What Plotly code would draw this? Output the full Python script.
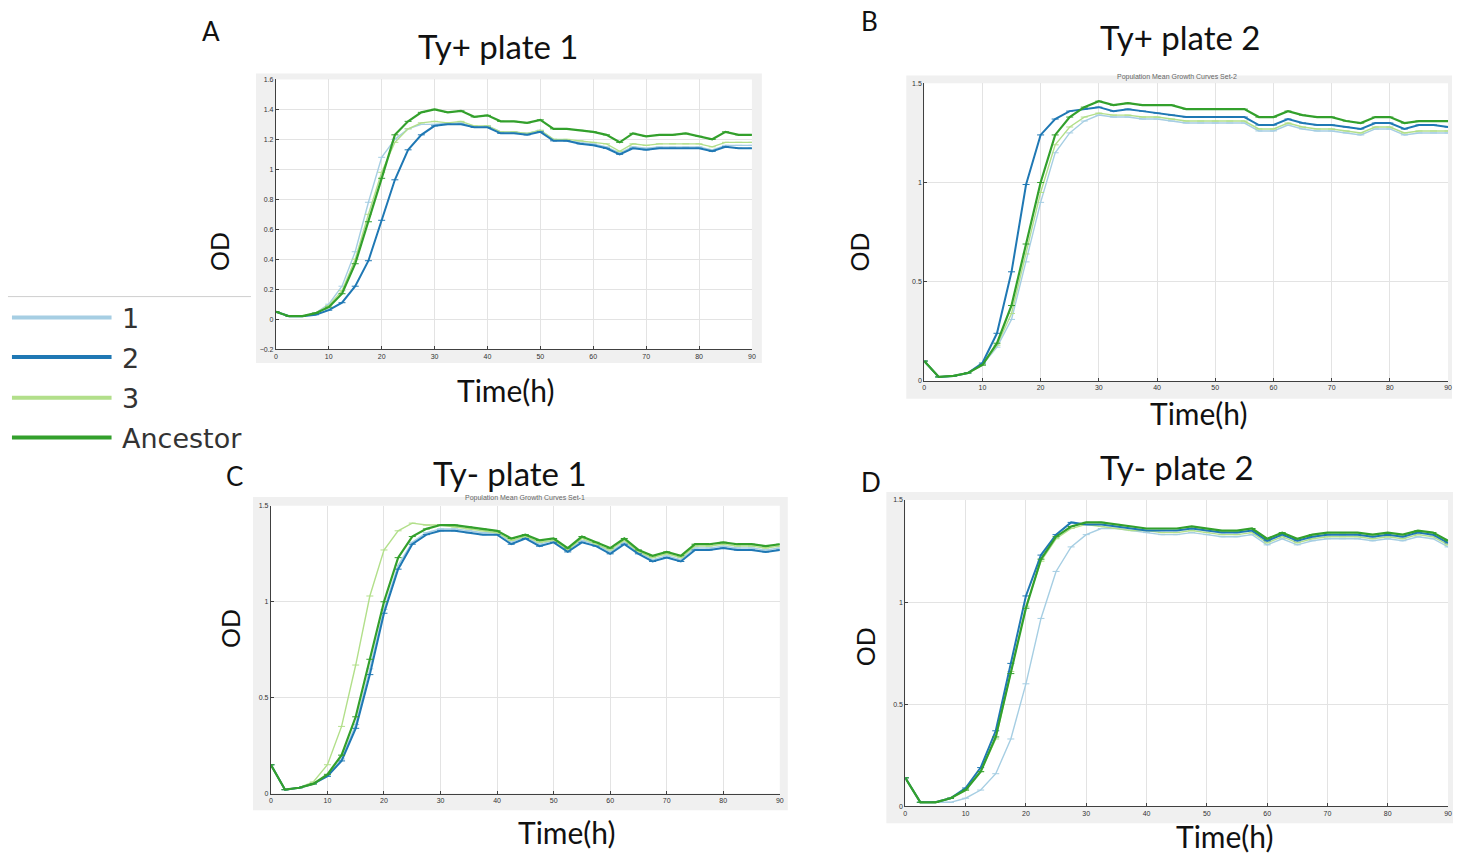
import plotly.graph_objects as go

# ---------------- data ----------------
time_h = [0, 2.5, 5, 7.5, 10, 12.5, 15, 17.5, 20, 22.5, 25, 27.5, 30, 32.5, 35, 37.5,
          40, 42.5, 45, 47.5, 50, 52.5, 55, 57.5, 60, 62.5, 65, 67.5, 70, 72.5, 75,
          77.5, 80, 82.5, 85, 87.5, 90]
series_names = ["1", "2", "3", "Ancestor"]

# Panel A: Ty+ plate 1
A_1 = [0.05,0.02,0.02,0.04,0.10,0.22,0.45,0.78,1.08,1.20,1.27,1.30,1.30,1.31,1.31,1.28,1.29,1.25,1.25,1.24,1.26,1.20,1.19,1.18,1.17,1.15,1.11,1.15,1.14,1.15,1.15,1.15,1.15,1.13,1.16,1.16,1.16]
A_2 = [0.05,0.02,0.02,0.03,0.06,0.11,0.22,0.39,0.66,0.93,1.13,1.23,1.29,1.30,1.30,1.28,1.28,1.24,1.24,1.23,1.25,1.19,1.19,1.17,1.16,1.14,1.10,1.14,1.13,1.14,1.14,1.14,1.14,1.12,1.15,1.14,1.14]
A_3 = [0.05,0.02,0.02,0.04,0.09,0.19,0.40,0.70,0.98,1.18,1.27,1.31,1.32,1.31,1.32,1.29,1.29,1.25,1.25,1.24,1.26,1.20,1.20,1.19,1.18,1.17,1.12,1.17,1.16,1.17,1.17,1.17,1.17,1.15,1.18,1.18,1.18]
A_anc = [0.05,0.02,0.02,0.04,0.08,0.17,0.37,0.65,0.94,1.23,1.32,1.38,1.40,1.38,1.39,1.35,1.36,1.32,1.32,1.31,1.33,1.27,1.27,1.26,1.25,1.23,1.18,1.24,1.22,1.23,1.23,1.24,1.22,1.20,1.25,1.23,1.23]

# Panel B: Ty+ plate 2
B_1 = [0.10,0.02,0.025,0.04,0.08,0.17,0.31,0.60,0.90,1.15,1.25,1.31,1.34,1.33,1.33,1.32,1.32,1.31,1.30,1.30,1.30,1.30,1.30,1.26,1.26,1.29,1.27,1.26,1.26,1.25,1.24,1.27,1.27,1.24,1.25,1.25,1.25]
B_2 = [0.10,0.02,0.025,0.04,0.09,0.24,0.55,0.99,1.24,1.32,1.36,1.37,1.38,1.36,1.37,1.36,1.35,1.34,1.33,1.33,1.33,1.33,1.33,1.29,1.29,1.32,1.30,1.29,1.29,1.28,1.27,1.30,1.30,1.27,1.29,1.29,1.28]
B_3 = [0.10,0.02,0.025,0.04,0.08,0.18,0.34,0.64,0.95,1.19,1.28,1.33,1.35,1.34,1.34,1.33,1.33,1.32,1.31,1.31,1.31,1.31,1.31,1.27,1.27,1.30,1.28,1.27,1.27,1.26,1.25,1.28,1.28,1.25,1.26,1.26,1.26]
B_anc = [0.10,0.02,0.025,0.04,0.08,0.19,0.38,0.69,1.00,1.24,1.33,1.38,1.41,1.39,1.40,1.39,1.39,1.39,1.37,1.37,1.37,1.37,1.37,1.33,1.33,1.36,1.34,1.33,1.33,1.31,1.30,1.33,1.33,1.30,1.31,1.31,1.31]

# Panel C: Ty- plate 1
C_1 = [0.15,0.02,0.03,0.05,0.09,0.18,0.36,0.65,0.96,1.19,1.31,1.36,1.38,1.38,1.37,1.36,1.36,1.31,1.34,1.30,1.32,1.27,1.32,1.30,1.26,1.31,1.26,1.22,1.24,1.22,1.28,1.28,1.29,1.28,1.28,1.27,1.28]
C_2 = [0.15,0.02,0.03,0.05,0.09,0.17,0.34,0.62,0.94,1.17,1.30,1.35,1.37,1.37,1.36,1.35,1.35,1.30,1.33,1.29,1.31,1.26,1.31,1.29,1.25,1.30,1.25,1.21,1.23,1.21,1.27,1.27,1.28,1.27,1.27,1.26,1.27]
C_3 = [0.15,0.02,0.03,0.06,0.15,0.35,0.67,1.03,1.27,1.37,1.41,1.40,1.40,1.39,1.38,1.37,1.36,1.32,1.34,1.31,1.32,1.27,1.33,1.30,1.27,1.32,1.26,1.23,1.25,1.23,1.29,1.29,1.30,1.29,1.29,1.28,1.29]
C_anc = [0.15,0.02,0.03,0.05,0.10,0.20,0.40,0.70,1.00,1.23,1.34,1.38,1.40,1.40,1.39,1.38,1.37,1.33,1.35,1.32,1.33,1.28,1.34,1.31,1.28,1.33,1.27,1.24,1.26,1.24,1.30,1.30,1.31,1.30,1.30,1.29,1.30]

# Panel D: Ty- plate 2
D_1 = [0.14,0.02,0.02,0.02,0.04,0.08,0.16,0.33,0.60,0.92,1.15,1.27,1.33,1.36,1.36,1.35,1.34,1.33,1.33,1.34,1.33,1.32,1.32,1.33,1.28,1.31,1.28,1.30,1.31,1.31,1.31,1.30,1.31,1.30,1.32,1.31,1.27]
D_2 = [0.14,0.02,0.02,0.04,0.09,0.19,0.37,0.70,1.03,1.23,1.33,1.39,1.38,1.38,1.37,1.36,1.35,1.35,1.35,1.36,1.35,1.34,1.34,1.35,1.30,1.33,1.30,1.32,1.33,1.33,1.33,1.32,1.33,1.32,1.34,1.33,1.29]
D_3 = [0.14,0.02,0.02,0.04,0.08,0.17,0.33,0.66,0.98,1.20,1.31,1.36,1.38,1.37,1.36,1.35,1.35,1.34,1.34,1.35,1.34,1.33,1.33,1.34,1.29,1.32,1.29,1.31,1.32,1.32,1.32,1.31,1.32,1.31,1.33,1.32,1.28]
D_anc = [0.14,0.02,0.02,0.04,0.08,0.17,0.34,0.65,0.97,1.21,1.32,1.37,1.39,1.39,1.38,1.37,1.36,1.36,1.36,1.37,1.36,1.35,1.35,1.36,1.31,1.34,1.31,1.33,1.34,1.34,1.34,1.33,1.34,1.33,1.35,1.34,1.30]

panel_titles = ["Ty+ plate 1", "Ty+ plate 2", "Ty- plate 1", "Ty- plate 2"]
panel_letters = ["A", "B", "C", "D"]

# ---------------- styling / layout ----------------
W, H = 1466, 858
FONT = "Lato"
TICKFONT = "Liberation Sans"
LEGFONT = "DejaVu Sans"
colors = {"1": "#a6cee3", "2": "#1f78b4", "3": "#b2df8a", "Ancestor": "#33a02c"}
widths = {"1": 1.4, "2": 2.0, "3": 1.4, "Ancestor": 2.2}
draw_order = ["1", "3", "2", "Ancestor"]

def px(x):
    return x / W

def py(y):
    return 1 - y / H

panels = [
    dict(data={"1": A_1, "2": A_2, "3": A_3, "Ancestor": A_anc},
         x0=275, x1=753, ytop=76, ybot=348, yr=[-0.2, 1.6], dt=0.2,
         bg=(255, 70, 763, 362),
         title=(498, 42), letter=(210, 27), od=(218, 250), time=(506, 389), sub=None),
    dict(data={"1": B_1, "2": B_2, "3": B_3, "Ancestor": B_anc},
         x0=926, x1=1452, ytop=80, ybot=380, yr=[0, 1.5], dt=0.5,
         bg=(908, 72, 1456, 398),
         title=(1183, 33), letter=(871, 17), od=(860, 250), time=(1202, 412),
         sub=(1180, 74, "Population Mean Growth Curves Set-2")),
    dict(data={"1": C_1, "2": C_2, "3": C_3, "Ancestor": C_anc},
         x0=270, x1=781, ytop=506, ybot=796, yr=[0, 1.5], dt=0.5,
         bg=(252, 497, 789, 813),
         title=(510, 473), letter=(233, 476), od=(229, 630), time=(567, 835),
         sub=(525, 498, "Population Mean Growth Curves Set-1")),
    dict(data={"1": D_1, "2": D_2, "3": D_3, "Ancestor": D_anc},
         x0=907, x1=1452, ytop=500, ybot=809, yr=[0, 1.5], dt=0.5,
         bg=(888, 492, 1457, 826),
         title=(1180, 467), letter=(873, 482), od=(866, 648), time=(1228, 839), sub=None),
]

fig = go.Figure()
shapes = []
annotations = []

for i, p in enumerate(panels):
    n = i + 1
    xa = "x" if n == 1 else f"x{n}"
    ya = "y" if n == 1 else f"y{n}"
    b = p["bg"]
    shapes.append(dict(type="rect", xref="paper", yref="paper",
                       x0=px(b[0]), x1=px(b[2]), y0=py(b[3]), y1=py(b[1]),
                       fillcolor="#f0f0f0", line=dict(width=0), layer="below"))
    for name in draw_order:
        fig.add_trace(go.Scatter(
            x=time_h, y=p["data"][name], mode="lines+markers", name=name,
            showlegend=False, xaxis=xa, yaxis=ya,
            line=dict(color=colors[name], width=widths[name]),
            marker=dict(symbol="line-ew-open", size=5,
                        line=dict(color=colors[name], width=1)),
        ))
    axis_common = dict(showgrid=True, gridcolor="#e3e3e3", gridwidth=1,
                       showline=True, linecolor="#404040", linewidth=1,
                       ticks="inside", ticklen=3, tickcolor="#404040",
                       tickfont=dict(family=TICKFONT, size=7, color="#333333"),
                       zeroline=False, mirror=False, fixedrange=True)
    fig.layout[f"xaxis{'' if n == 1 else n}"] = dict(
        axis_common, domain=[px(p["x0"]), px(p["x1"])], range=[0, 90],
        tick0=0, dtick=10, anchor=ya)
    fig.layout[f"yaxis{'' if n == 1 else n}"] = dict(
        axis_common, domain=[py(p["ybot"]), py(p["ytop"])], range=p["yr"],
        tick0=p["yr"][0], dtick=p["dt"], anchor=xa)
    shapes.append(dict(type="rect", xref="paper", yref="paper",
                       x0=px(p["x0"]), x1=px(p["x1"]), y0=py(p["ybot"]), y1=py(p["ytop"]),
                       fillcolor="white", line=dict(width=0), layer="below"))
    tx, ty = p["title"]
    annotations.append(dict(text=panel_titles[i], x=px(tx), y=py(ty), xref="paper", yref="paper",
                            showarrow=False, xanchor="center", yanchor="middle",
                            font=dict(family=FONT, size=33, color="#111111")))
    lx, ly = p["letter"]
    annotations.append(dict(text=panel_letters[i], x=px(lx), y=py(ly), xref="paper", yref="paper",
                            showarrow=False, xanchor="center", yanchor="middle",
                            font=dict(family=FONT, size=26, color="#111111")))
    ox, oy = p["od"]
    annotations.append(dict(text="OD", x=px(ox), y=py(oy), xref="paper", yref="paper",
                            showarrow=False, xanchor="center", yanchor="middle", textangle=-90,
                            font=dict(family=FONT, size=25, color="#111111")))
    mx, my = p["time"]
    annotations.append(dict(text="Time(h)", x=px(mx), y=py(my), xref="paper", yref="paper",
                            showarrow=False, xanchor="center", yanchor="middle",
                            font=dict(family=FONT, size=30, color="#111111")))
    if p["sub"]:
        sx, sy, st = p["sub"]
        annotations.append(dict(text=st, x=px(sx), y=py(sy), xref="paper", yref="paper",
                                showarrow=False, xanchor="center", yanchor="middle",
                                font=dict(family=TICKFONT, size=7, color="#666666")))

# ---------------- legend (drawn) ----------------
shapes.append(dict(type="line", xref="paper", yref="paper",
                   x0=px(6), x1=px(250), y0=py(295), y1=py(295),
                   line=dict(color="#cfcfcf", width=1)))
legend_y = [316, 356, 397, 437]
for name, ly in zip(series_names, legend_y):
    shapes.append(dict(type="line", xref="paper", yref="paper",
                       x0=px(10), x1=px(110), y0=py(ly), y1=py(ly),
                       line=dict(color=colors[name], width=4)))
    annotations.append(dict(text=name, x=px(118), y=py(ly + 1), xref="paper", yref="paper",
                            showarrow=False, xanchor="left", yanchor="middle",
                            font=dict(family=LEGFONT, size=27, color="#333333")))

fig.update_layout(
    width=W, height=H, margin=dict(l=0, r=0, t=0, b=0),
    paper_bgcolor="white", plot_bgcolor="rgba(0,0,0,0)",
    showlegend=False, shapes=shapes, annotations=annotations,
)

fig.write_html("out.html")
